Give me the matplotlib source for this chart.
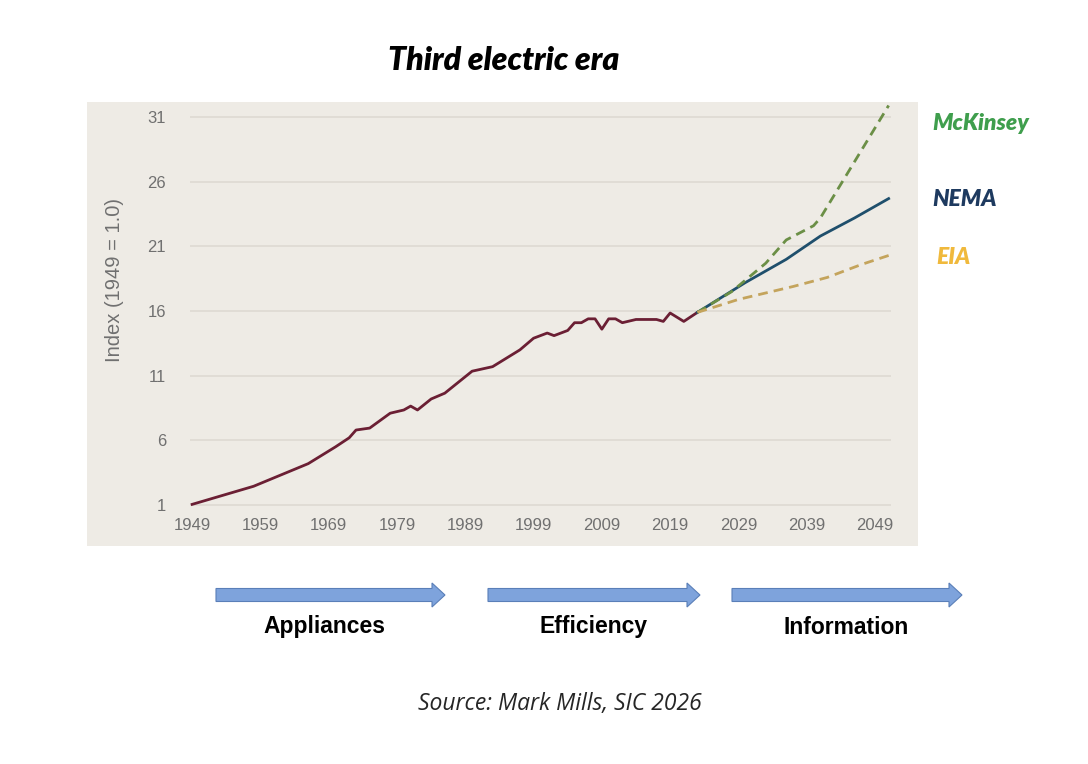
import matplotlib
matplotlib.use("Agg")
import matplotlib.pyplot as plt
from matplotlib.patches import FancyArrow

# historical index (1949 = 1.0)
hist_years = [1949, 1958, 1966, 1970, 1972, 1973, 1975, 1978, 1980, 1981, 1982, 1984, 1986,
              1990, 1993, 1997, 1999, 2001, 2002, 2004, 2005, 2006, 2007, 2008, 2009, 2010,
              2011, 2012, 2014, 2017, 2018, 2019, 2021, 2023]
hist_vals = [1.05, 2.45, 4.2, 5.5, 6.2, 6.8, 6.95, 8.1, 8.35, 8.65, 8.35, 9.2, 9.65,
             11.35, 11.7, 13.0, 13.9, 14.3, 14.1, 14.5, 15.1, 15.1, 15.4, 15.4, 14.6, 15.4,
             15.4, 15.1, 15.35, 15.35, 15.2, 15.85, 15.2, 15.9]

# projections
mck_years = [2023, 2028, 2033, 2036, 2040, 2041, 2051]
mck_vals = [15.9, 17.5, 19.7, 21.5, 22.6, 23.2, 31.9]
nema_years = [2023, 2030, 2036, 2041, 2046, 2051]
nema_vals = [15.9, 18.2, 20.0, 21.8, 23.2, 24.7]
eia_years = [2023, 2029, 2037, 2042, 2047, 2051]
eia_vals = [15.9, 16.9, 17.9, 18.6, 19.6, 20.3]

y_ticks = [1, 6, 11, 16, 21, 26, 31]
x_ticks = [1949, 1959, 1969, 1979, 1989, 1999, 2009, 2019, 2029, 2039, 2049]
eras = ["Appliances", "Efficiency", "Information"]

W, H = 1088, 764
fig = plt.figure(figsize=(W / 100, H / 100), dpi=100)
fig.patch.set_facecolor("white")

ax = fig.add_axes([87 / W, 1 - 546 / H, (918 - 87) / W, (546 - 102) / H])
ax.set_facecolor("#eeebe5")
ax.set_xlim(1933.6, 2055.3)
ax.set_ylim(-2.17, 32.17)
for s in ax.spines.values():
    s.set_visible(False)

ax.hlines(y_ticks, 1948.7, 2051.3, color="#dedad2", lw=1.2, zorder=1)

ax.plot(hist_years, hist_vals, color="#6b1f34", lw=2.0, zorder=3)
ax.plot(nema_years, nema_vals, color="#1f4f6c", lw=2.0, zorder=3)
ax.plot(mck_years, mck_vals, color="#6b8f46", lw=2.0, ls=(0, (3.5, 2.2)), zorder=3)
ax.plot(eia_years, eia_vals, color="#c4a45c", lw=2.0, ls=(0, (3.5, 2.2)), zorder=3)

ax.set_yticks(y_ticks)
ax.set_xticks(x_ticks)
ax.tick_params(axis="y", length=0, pad=-57, labelsize=12, labelcolor="#707070")
ax.tick_params(axis="x", length=0, pad=-20, labelsize=12, labelcolor="#707070")
for lab in ax.get_yticklabels() + ax.get_xticklabels():
    lab.set_family("Liberation Sans")
ax.text(1937.7, 18.4, "Index (1949 = 1.0)", rotation=90, ha="center", va="center",
        fontsize=14.5, color="#707070", family="Liberation Sans")

# overlay in pixel coordinates for titles, labels and arrows
ov = fig.add_axes([0, 0, 1, 1], facecolor="none")
ov.set_xlim(0, W)
ov.set_ylim(H, 0)
ov.axis("off")

ov.text(504, 60, "Third electric era", ha="center", va="center", fontsize=23,
        fontweight="heavy", style="italic", family="Lato")

ov.text(932, 124, "McKinsey", ha="left", va="center", fontsize=16.5, fontweight="heavy",
        style="italic", family="Lato", color="#3f9e4d")
ov.text(932, 199, "NEMA", ha="left", va="center", fontsize=16.5, fontweight="heavy",
        style="italic", family="Lato", color="#1e3a5f")
ov.text(936, 257, "EIA", ha="left", va="center", fontsize=16.5, fontweight="heavy",
        style="italic", family="Lato", color="#f0b93c")

arrow_x = [(216, 445), (488, 700), (732, 962)]
label_x = [324, 594, 846]
for (x0, x1), lx, name in zip(arrow_x, label_x, eras):
    ov.add_patch(FancyArrow(x0, 595, x1 - x0, 0, width=13, head_width=24, head_length=13,
                            length_includes_head=True, facecolor="#7ea3dc",
                            edgecolor="#5a7fb8", lw=0.8))
    ov.text(lx, 627, name, ha="center", va="center", fontsize=16.5, fontweight="bold",
            family="Liberation Sans", color="black")

ov.text(560, 704, "Source: Mark Mills, SIC 2026", ha="center", va="center", fontsize=16.5,
        style="italic", family="Open Sans", color="#262626")

fig.savefig("out.png", dpi=100)
